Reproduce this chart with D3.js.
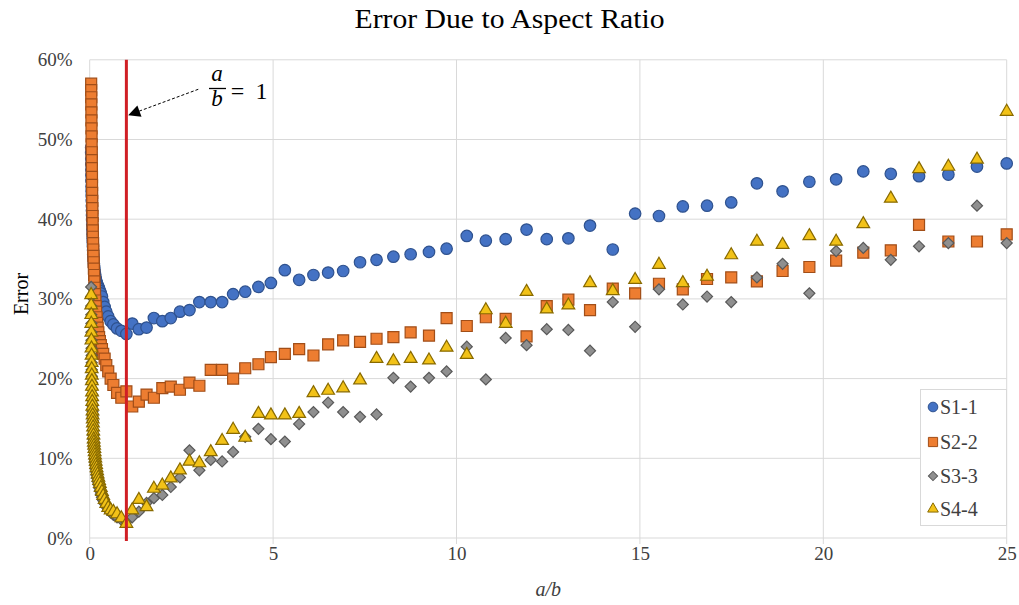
<!DOCTYPE html>
<html>
<head>
<meta charset="utf-8">
<script src="https://cdn.jsdelivr.net/npm/d3@7"></script>
<style>
  body { margin: 0; background: #fff; }
  svg { display: block; font-family: "Liberation Serif", "Times New Roman", serif; }
</style>
</head>
<body>
<svg id="chart" width="1019" height="605"></svg>
<script>
// a/b values (shared by all series)
var aspect = [0.040, 0.041, 0.043, 0.044, 0.046, 0.047, 0.049, 0.051, 0.053, 0.055,
  0.057, 0.059, 0.062, 0.064, 0.067, 0.070, 0.073, 0.077, 0.080, 0.084,
  0.088, 0.093, 0.097, 0.103, 0.108, 0.114, 0.121, 0.128, 0.136, 0.145,
  0.154, 0.164, 0.175, 0.188, 0.202, 0.217, 0.236, 0.256, 0.277, 0.303,
  0.334, 0.368, 0.407, 0.452, 0.505, 0.571, 0.645, 0.746, 0.862,
  1.00, 1.16, 1.34, 1.55, 1.75, 1.98, 2.21, 2.46, 2.72, 2.99,
  3.30, 3.61, 3.91, 4.24, 4.60, 4.94, 5.32, 5.71, 6.10, 6.50,
  6.91, 7.37, 7.82, 8.28, 8.75, 9.25, 9.73, 10.28, 10.80, 11.34,
  11.91, 12.46, 13.05, 13.64, 14.26, 14.87, 15.52, 16.17, 16.83, 17.49,
  18.19, 18.89, 19.62, 20.35, 21.09, 21.84, 22.61, 23.41, 24.19, 25.00];

// error in percent
var s1 = [49.0, 48.3, 47.6, 46.9, 46.2, 45.5, 44.8, 44.1, 43.5, 42.9,
  42.3, 41.7, 41.1, 40.5, 39.9, 39.3, 38.7, 38.1, 37.6, 37.1,
  36.6, 36.1, 35.6, 35.2, 34.8, 34.4, 34.0, 33.7, 33.4, 33.1,
  32.8, 32.5, 32.3, 32.1, 31.9, 31.7, 31.5, 31.3, 31.0, 30.7,
  30.3, 29.6, 29.0, 28.4, 27.8, 27.2, 26.8, 26.3, 26.0,
  25.6, 26.9, 26.2, 26.4, 27.6, 27.2, 27.6, 28.4, 28.6, 29.6,
  29.6, 29.6, 30.6, 30.9, 31.5, 32.0, 33.6, 32.4, 33.0, 33.3,
  33.5, 34.6, 34.9, 35.3, 35.6, 35.9, 36.3, 37.9, 37.3, 37.5,
  38.7, 37.5, 37.6, 39.2, 36.2, 40.7, 40.4, 41.6, 41.7, 42.1,
  44.5, 43.5, 44.7, 45.0, 46.0, 45.7, 45.4, 45.6, 46.6, 47.0];

var s2 = [57.0, 56.2, 55.3, 54.4, 53.4, 52.4, 51.4, 50.4, 49.4, 48.4,
  47.4, 46.4, 45.3, 44.3, 43.3, 42.3, 41.4, 40.4, 39.5, 38.6,
  37.8, 37.0, 36.2, 35.4, 34.6, 33.8, 33.0, 32.2, 31.4, 30.6,
  29.8, 29.1, 28.4, 27.7, 27.0, 26.4, 25.8, 25.2, 24.7, 24.2,
  23.7, 23.1, 22.5, 21.7, 20.9, 20.0, 19.2, 18.2, 17.6,
  18.4, 16.5, 17.1, 18.0, 17.6, 18.8, 19.0, 18.6, 19.5, 19.1,
  21.1, 21.1, 20.0, 21.3, 21.8, 22.7, 23.1, 23.7, 22.9, 24.3,
  24.8, 24.6, 25.0, 25.2, 25.8, 25.4, 27.6, 26.6, 27.7, 27.5,
  25.3, 29.1, 29.9, 28.6, 31.3, 30.7, 31.9, 31.2, 32.5, 32.7,
  32.2, 33.5, 34.0, 34.8, 35.8, 36.1, 39.3, 37.2, 37.2, 38.1];

var s3 = [31.5, 30.3, 29.1, 28.0, 26.9, 25.8, 24.8, 23.8, 22.9, 22.0,
  21.1, 20.3, 19.5, 18.7, 18.0, 17.3, 16.6, 15.9, 15.3, 14.7,
  14.1, 13.5, 12.9, 12.4, 11.9, 11.4, 10.9, 10.4, 9.9, 9.5,
  9.1, 8.7, 8.3, 7.9, 7.5, 7.1, 6.7, 6.3, 5.9, 5.5,
  5.1, 4.7, 4.3, 3.9, 3.5, 3.2, 2.9, 2.6, 2.3,
  2.0, 2.6, 3.3, 4.4, 5.0, 5.4, 6.4, 7.6, 11.0, 8.5,
  9.8, 9.6, 10.8, 12.7, 13.7, 12.4, 12.1, 14.3, 15.8, 17.0,
  15.8, 15.2, 15.5, 20.1, 19.0, 20.1, 20.9, 24.0, 19.9, 25.1,
  24.2, 26.2, 26.1, 23.5, 29.6, 26.5, 31.2, 29.3, 30.3, 29.6,
  32.7, 34.4, 30.7, 36.0, 36.4, 34.9, 36.6, 37.0, 41.7, 37.0];

var s4 = [30.5, 29.2, 28.0, 26.9, 25.8, 24.8, 23.8, 22.9, 22.0, 21.2,
  20.4, 19.7, 19.0, 18.3, 17.7, 17.1, 16.5, 15.9, 15.4, 14.9,
  14.4, 13.9, 13.4, 12.9, 12.4, 12.0, 11.6, 11.2, 10.8, 10.4,
  10.0, 9.6, 9.2, 8.8, 8.4, 8.0, 7.6, 7.2, 6.8, 6.3,
  5.8, 5.3, 4.8, 4.3, 3.8, 3.5, 3.3, 3.0, 2.5,
  1.8, 3.5, 4.8, 3.9, 6.2, 6.6, 7.5, 8.5, 9.6, 9.4,
  10.8, 12.2, 13.6, 12.6, 15.6, 15.4, 15.4, 15.6, 18.2, 18.5,
  18.8, 19.8, 22.5, 22.2, 22.5, 22.3, 23.9, 23.0, 28.6, 26.9,
  30.9, 28.7, 29.2, 32.0, 31.0, 32.4, 34.3, 32.0, 32.8, 35.5,
  37.2, 36.8, 37.9, 37.2, 39.4, 42.6, 46.3, 46.6, 47.5, 53.5];

var seriesNames = ['S1-1', 'S2-2', 'S3-3', 'S4-4'];
var xTicks = [0, 5, 10, 15, 20, 25];
var yTicks = [0, 0.1, 0.2, 0.3, 0.4, 0.5, 0.6];

var svg = d3.select('#chart');
var plotL = 89.7, plotR = 1006.7, plotT = 59.8, plotB = 538;

var x = d3.scaleLinear().domain([0, 25]).range([plotL, plotR]);
var y = d3.scaleLinear().domain([0, 0.6]).range([plotB, plotT]);

// gridlines
var grid = svg.append('g').attr('stroke', '#d9d9d9').attr('stroke-width', 1);
grid.selectAll('line.h').data(yTicks).enter().append('line')
  .attr('x1', plotL).attr('x2', plotR)
  .attr('y1', function(d){ return y(d); }).attr('y2', function(d){ return y(d); });
grid.selectAll('line.v').data(xTicks).enter().append('line')
  .attr('y1', plotT).attr('y2', plotB + 6)
  .attr('x1', function(d){ return x(d); }).attr('x2', function(d){ return x(d); });

// axes (labels only)
svg.append('g')
  .attr('transform', 'translate(0,' + plotB + ')')
  .call(d3.axisBottom(x).tickValues(xTicks).tickSize(0).tickPadding(9).tickFormat(d3.format('d')));
svg.append('g')
  .attr('transform', 'translate(' + plotL + ',0)')
  .call(d3.axisLeft(y).tickValues(yTicks).tickSize(0).tickPadding(17).tickFormat(d3.format('.0%')));
svg.selectAll('.domain').remove();
svg.selectAll('.tick text')
  .attr('font-family', '"Liberation Serif", serif')
  .attr('font-size', 19).attr('fill', '#404040');

// markers
var styles = [
  { type: d3.symbolCircle, size: 104, rot: 0, fill: '#4472c4', stroke: '#2f528f' },
  { type: d3.symbolSquare, size: 121, rot: 0, fill: '#ed7d31', stroke: '#a14e18' },
  { type: d3.symbolSquare, size: 61, rot: 45, fill: '#8f8f8f', stroke: '#595959' },
  { type: d3.symbolTriangle, size: 70, rot: 0, fill: '#f2c218', stroke: '#886a00' }
];
var allSeries = [s1, s2, s3, s4];

allSeries.forEach(function(vals, i){
  var st = styles[i];
  var sym = d3.symbol().type(st.type).size(st.size);
  var pts = vals.map(function(v, j){ return { x: aspect[j], y: v / 100 }; });
  svg.append('g').selectAll('path').data(pts).enter().append('path')
    .attr('d', sym)
    .attr('transform', function(d){
      return 'translate(' + x(d.x) + ',' + y(d.y) + ') rotate(' + st.rot + ')';
    })
    .attr('fill', st.fill).attr('stroke', st.stroke).attr('stroke-width', 1.2);
});

// a/b = 1 line
svg.append('line')
  .attr('x1', x(1)).attr('x2', x(1))
  .attr('y1', plotT).attr('y2', plotB + 3)
  .attr('stroke', '#d01f25').attr('stroke-width', 3);

// annotation arrow
svg.append('defs').append('marker')
  .attr('id', 'head').attr('viewBox', '0 0 10 10')
  .attr('refX', 9).attr('refY', 5)
  .attr('markerWidth', 16).attr('markerHeight', 12)
  .attr('markerUnits', 'userSpaceOnUse')
  .attr('orient', 'auto')
  .append('path').attr('d', 'M0,0L10,5L0,10z').attr('fill', '#000');
svg.append('line')
  .attr('x1', x(2.96)).attr('y1', y(0.563))
  .attr('x2', x(1.08)).attr('y2', y(0.531))
  .attr('stroke', '#000').attr('stroke-width', 1)
  .attr('stroke-dasharray', '3,2')
  .attr('marker-end', 'url(#head)');

var note = svg.append('g').attr('font-family', '"Liberation Serif", serif').attr('fill', '#000');
note.append('text').attr('x', 217).attr('y', 81).attr('text-anchor', 'middle')
  .attr('font-style', 'italic').attr('font-size', 23).text('a');
note.append('line').attr('x1', 209).attr('x2', 226).attr('y1', 88.5).attr('y2', 88.5)
  .attr('stroke', '#000').attr('stroke-width', 1.3);
note.append('text').attr('x', 217).attr('y', 106).attr('text-anchor', 'middle')
  .attr('font-style', 'italic').attr('font-size', 23).text('b');
note.append('text').attr('x', 237.5).attr('y', 98.5).attr('text-anchor', 'middle')
  .attr('font-size', 24).text('=');
note.append('text').attr('x', 261.5).attr('y', 98.5).attr('text-anchor', 'middle')
  .attr('font-size', 24).text('1');

// title and axis titles
svg.append('text').attr('x', 509.5).attr('y', 28).attr('text-anchor', 'middle')
  .attr('font-size', 27).attr('textLength', 310).attr('lengthAdjust', 'spacingAndGlyphs')
  .attr('fill', '#000').text('Error Due to Aspect Ratio');
svg.append('text').attr('x', (plotL + plotR) / 2).attr('y', 596).attr('text-anchor', 'middle')
  .attr('font-size', 20).attr('font-style', 'italic').attr('fill', '#404040').text('a/b');
svg.append('text').attr('transform', 'translate(28,294) rotate(-90)')
  .attr('text-anchor', 'middle').attr('font-size', 20).attr('fill', '#000').text('Error');

// legend
var legend = svg.append('g');
legend.append('rect').attr('x', 920.5).attr('y', 389.5).attr('width', 86).attr('height', 136)
  .attr('fill', '#fff').attr('stroke', '#d9d9d9');
var legendY = [407, 442, 476, 509];
seriesNames.forEach(function(name, i){
  var st = styles[i];
  legend.append('path')
    .attr('d', d3.symbol().type(st.type).size(st.size * 0.7))
    .attr('transform', 'translate(933,' + legendY[i] + ') rotate(' + st.rot + ')')
    .attr('fill', st.fill).attr('stroke', st.stroke);
  legend.append('text').attr('x', 940).attr('y', legendY[i] + 6.5)
    .attr('font-size', 20).attr('fill', '#404040').text(name);
});
</script>
</body>
</html>
